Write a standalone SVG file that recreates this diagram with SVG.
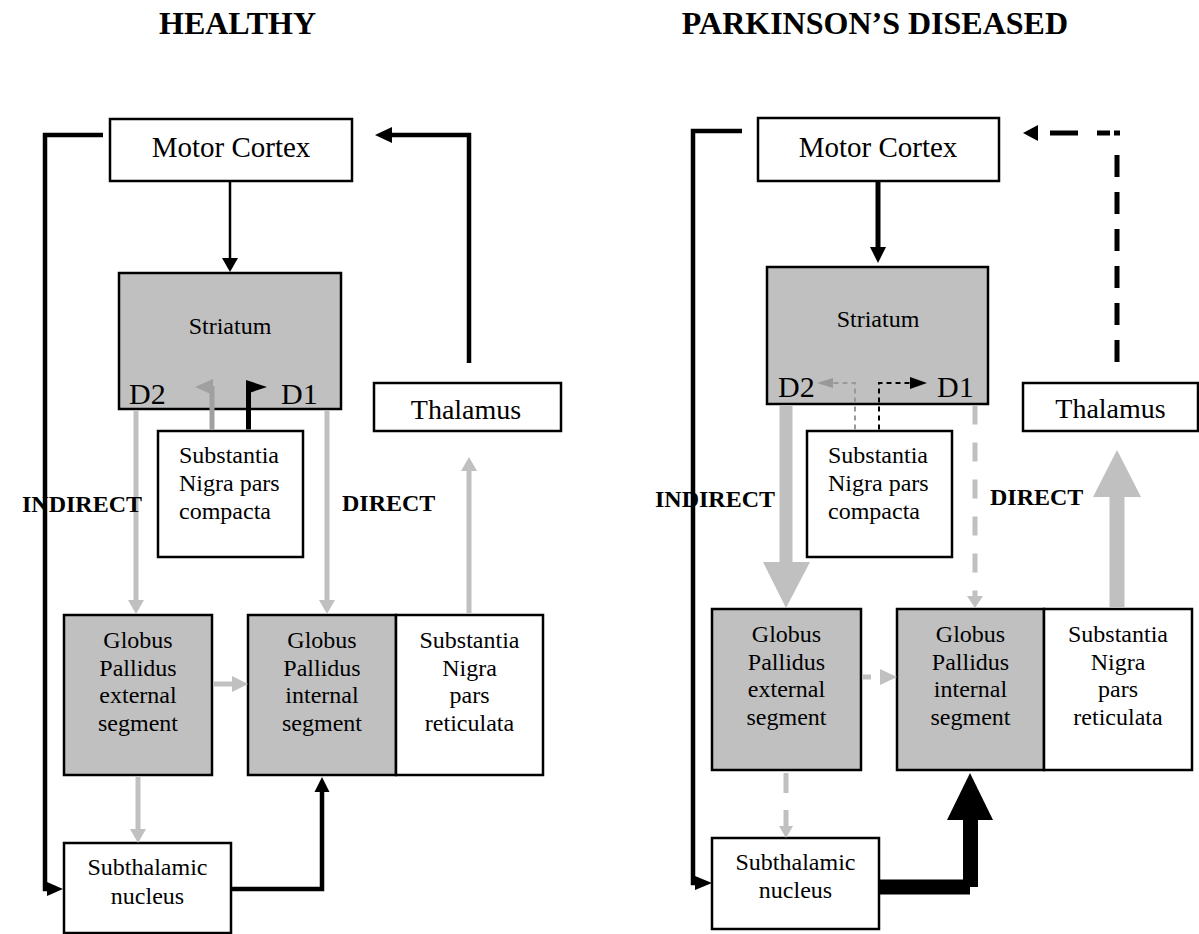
<svg xmlns="http://www.w3.org/2000/svg" width="1199" height="934" viewBox="0 0 1199 934">
<style>
text{font-family:"Liberation Serif","Times New Roman",serif;fill:#000}
.box{stroke:#000;stroke-width:2.5;fill:#fff}
.gbox{stroke:#000;stroke-width:2.5;fill:#c0c0c0}
.t24{font-size:24px;text-anchor:middle}
.tl{font-size:24px}
.mc{font-size:29px;text-anchor:middle}
.th{font-size:28px;text-anchor:middle}
.d{font-size:30px}
.lab{font-size:24px;font-weight:bold}
.title{font-size:32px;font-weight:bold}
.k{fill:none;stroke:#000;stroke-linejoin:miter}
.g{fill:none;stroke:#c0c0c0}
.hk{fill:#000}
.hg{fill:#c0c0c0}
.hd{fill:#999}
</style>
<rect width="1199" height="934" fill="#fff"/>
<text class="title" x="159" y="34">HEALTHY</text>
<text class="title" x="1068" y="34" text-anchor="end">PARKINSON’S DISEASED</text>

<!-- HEALTHY nodes -->
<g id="motor-cortex-healthy">
  <rect class="box" x="110" y="119" width="242" height="62"/>
  <text class="mc" x="231" y="157">Motor Cortex</text>
</g>
<g id="striatum-healthy">
  <rect class="gbox" x="119" y="273" width="222" height="136"/>
  <text class="t24" x="230" y="334">Striatum</text>
  <text class="d" x="129" y="404">D2</text>
  <text class="d" x="281" y="404">D1</text>
</g>
<g id="snc-healthy">
  <rect class="box" x="158" y="431" width="145" height="126"/>
  <text class="tl" x="179" y="463">Substantia</text>
  <text class="tl" x="179" y="491">Nigra pars</text>
  <text class="tl" x="179" y="519">compacta</text>
</g>
<g id="thalamus-healthy">
  <rect class="box" x="374" y="383" width="187" height="48"/>
  <text class="th" x="466" y="419">Thalamus</text>
</g>
<g id="gpe-healthy">
  <rect class="gbox" x="64" y="615" width="148" height="160"/>
  <text class="t24" x="138" y="648">Globus</text>
  <text class="t24" x="138" y="676">Pallidus</text>
  <text class="t24" x="138" y="703">external</text>
  <text class="t24" x="138" y="731">segment</text>
</g>
<g id="gpi-healthy">
  <rect class="gbox" x="248" y="615" width="148" height="160"/>
  <text class="t24" x="322" y="648">Globus</text>
  <text class="t24" x="322" y="676">Pallidus</text>
  <text class="t24" x="322" y="703">internal</text>
  <text class="t24" x="322" y="731">segment</text>
</g>
<g id="snr-healthy">
  <rect class="box" x="396" y="615" width="147" height="160"/>
  <text class="t24" x="469.5" y="648">Substantia</text>
  <text class="t24" x="469.5" y="676">Nigra</text>
  <text class="t24" x="469.5" y="703">pars</text>
  <text class="t24" x="469.5" y="731">reticulata</text>
</g>
<g id="stn-healthy">
  <rect class="box" x="64" y="843" width="167" height="90"/>
  <text class="t24" x="147.5" y="875">Subthalamic</text>
  <text class="t24" x="147.5" y="904">nucleus</text>
</g>

<!-- PARKINSON nodes -->
<g id="motor-cortex-pd">
  <rect class="box" x="758" y="118" width="241" height="63"/>
  <text class="mc" x="878" y="157">Motor Cortex</text>
</g>
<g id="striatum-pd">
  <rect class="gbox" x="767" y="267" width="221" height="137"/>
  <text class="t24" x="878" y="327">Striatum</text>
  <text class="d" x="778" y="397">D2</text>
  <text class="d" x="937" y="397">D1</text>
</g>
<g id="snc-pd">
  <rect class="box" x="807" y="431" width="145" height="126"/>
  <text class="tl" x="828" y="463">Substantia</text>
  <text class="tl" x="828" y="491">Nigra pars</text>
  <text class="tl" x="828" y="519">compacta</text>
</g>
<g id="thalamus-pd">
  <rect class="box" x="1023" y="383" width="175" height="48"/>
  <text class="th" x="1110.5" y="418">Thalamus</text>
</g>
<g id="gpe-pd">
  <rect class="gbox" x="712" y="609" width="149" height="161"/>
  <text class="t24" x="786.5" y="642">Globus</text>
  <text class="t24" x="786.5" y="670">Pallidus</text>
  <text class="t24" x="786.5" y="697">external</text>
  <text class="t24" x="786.5" y="725">segment</text>
</g>
<g id="gpi-pd">
  <rect class="gbox" x="897" y="609" width="147" height="161"/>
  <text class="t24" x="970.5" y="642">Globus</text>
  <text class="t24" x="970.5" y="670">Pallidus</text>
  <text class="t24" x="970.5" y="697">internal</text>
  <text class="t24" x="970.5" y="725">segment</text>
</g>
<g id="snr-pd">
  <rect class="box" x="1044" y="609" width="148" height="161"/>
  <text class="t24" x="1118" y="642">Substantia</text>
  <text class="t24" x="1118" y="670">Nigra</text>
  <text class="t24" x="1118" y="697">pars</text>
  <text class="t24" x="1118" y="725">reticulata</text>
</g>
<g id="stn-pd">
  <rect class="box" x="712" y="838" width="167" height="91"/>
  <text class="t24" x="795.5" y="870">Subthalamic</text>
  <text class="t24" x="795.5" y="898">nucleus</text>
</g>

<g id="connectors">
  <!-- healthy -->
  <line class="k" x1="230" y1="182" x2="230" y2="259" stroke-width="2.5"/>
  <polygon class="hk" points="222,258 238,258 230,272"/>
  <polyline class="k" points="103,135 45,135 45,889 49,889" stroke-width="4.5"/>
  <polygon class="hk" points="47,882 47,896 63,889"/>
  <polyline class="k" points="469,363 469,135 391,135" stroke-width="4.5"/>
  <polygon class="hk" points="392,127 392,143 375,135"/>
  <line class="g" x1="136" y1="410.5" x2="136" y2="601" stroke-width="5"/>
  <polygon class="hg" points="128,600 144,600 136,614"/>
  <line class="g" x1="327" y1="410.5" x2="327" y2="601" stroke-width="5"/>
  <polygon class="hg" points="319,600 335,600 327,614"/>
  <line class="g" x1="213.5" y1="684" x2="233" y2="684" stroke-width="5"/>
  <polygon class="hg" points="232,676 232,692 248,684"/>
  <line class="g" x1="138" y1="776.5" x2="138" y2="830" stroke-width="5"/>
  <polygon class="hg" points="130,829 146,829 138,843"/>
  <line class="g" x1="469" y1="613.5" x2="469" y2="470" stroke-width="5"/>
  <polygon class="hg" points="461,471 477,471 469,457"/>
  <polyline class="k" points="232,889 322,889 322,791" stroke-width="4.5"/>
  <polygon class="hk" points="314.5,792 329.5,792 322,777"/>
  <line x1="212" y1="429.5" x2="212" y2="386" stroke="#a0a0a0" stroke-width="5"/>
  <polygon points="213,379 213,395 195,387" fill="#a0a0a0"/>
  <line x1="248.5" y1="429.5" x2="248.5" y2="384" stroke="#000" stroke-width="5"/>
  <polygon class="hk" points="246,380 246,394 267,387"/>

  <!-- parkinson -->
  <line class="k" x1="878" y1="182" x2="878" y2="248" stroke-width="5"/>
  <polygon class="hk" points="870,247 886,247 878,263"/>
  <polyline class="k" points="742,131 693,131 693,883 697,883" stroke-width="4.5"/>
  <polygon class="hk" points="695,876 695,890 712,883"/>
  <path class="k" d="M1117,362 V155" stroke-width="5" stroke-dasharray="22 15"/>
  <line class="k" x1="1050" y1="133" x2="1078" y2="133" stroke-width="5"/>
  <line class="k" x1="1097" y1="133" x2="1110" y2="133" stroke-width="5"/>
  <line class="k" x1="1114" y1="133" x2="1120" y2="133" stroke-width="5"/>
  <polygon class="hk" points="1038,125 1038,141 1023,133"/>
  <line class="g" x1="786" y1="405.5" x2="786" y2="563" stroke-width="13"/>
  <polygon class="hg" points="763,562 810,562 786,608"/>
  <line class="g" x1="975" y1="405.5" x2="975" y2="597" stroke-width="5" stroke-dasharray="19 18"/>
  <polygon class="hg" points="967,596 983,596 975,608"/>
  <line class="g" x1="1117" y1="607.5" x2="1117" y2="496" stroke-width="15"/>
  <polygon class="hg" points="1093,497 1141,497 1117,450"/>
  <line class="g" x1="862.5" y1="677" x2="871" y2="677" stroke-width="5"/>
  <polygon class="hg" points="880,669 880,685 897,677"/>
  <line class="g" x1="786" y1="773" x2="786" y2="793" stroke-width="5"/>
  <line class="g" x1="786" y1="810" x2="786" y2="827" stroke-width="5"/>
  <polygon class="hg" points="779,826 793,826 786,838"/>
  <rect class="hk" x="880" y="879.5" width="90" height="15"/>
  <rect class="hk" x="963" y="819" width="15" height="68"/>
  <polygon class="hk" points="947,820 993,820 970,773"/>
  <path d="M855,429.5 V383 H833" fill="none" stroke="#999" stroke-width="2" stroke-dasharray="5 4"/>
  <polygon class="hd" points="833,378 833,388 817,383"/>
  <path class="k" d="M879,429.5 V383 H910" stroke-width="2" stroke-dasharray="5 4"/>
  <polygon class="hk" points="910,377 910,389 927,383"/>
</g>

<text class="lab" x="22" y="512">INDIRECT</text>
<text class="lab" x="342" y="511">DIRECT</text>
<text class="lab" x="655" y="507">INDIRECT</text>
<text class="lab" x="990" y="505">DIRECT</text>
</svg>
